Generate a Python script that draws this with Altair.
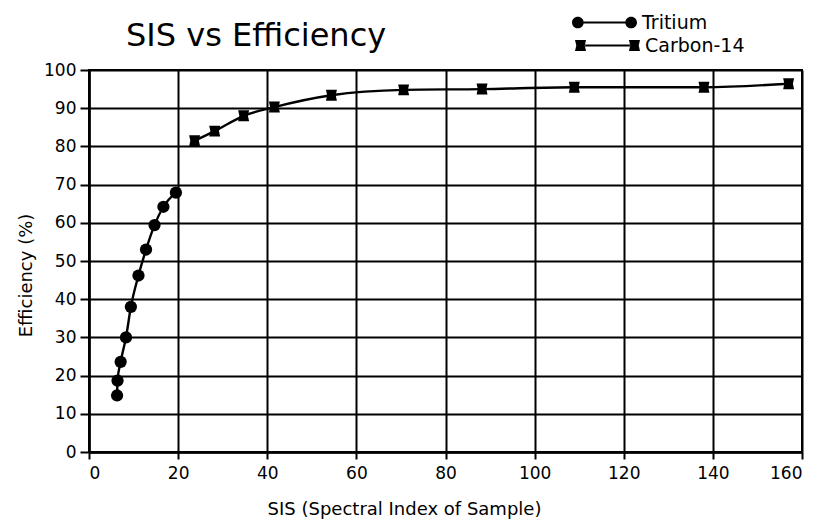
import altair as alt
import pandas as pd

# ---- data ----
tritium_sis = [6.3, 6.4, 7.1, 8.3, 9.4, 11.1, 12.8, 14.7, 16.7, 19.5]
tritium_eff = [14.8, 18.7, 23.6, 30.0, 38.0, 46.2, 53.0, 59.4, 64.2, 67.9]
carbon_sis = [23.7, 28.2, 34.7, 41.6, 54.4, 70.6, 88.2, 108.9, 138.0, 157.0]
carbon_eff = [81.5, 84.0, 88.0, 90.3, 93.4, 94.8, 95.0, 95.5, 95.5, 96.4]
x_ticks = [0, 20, 40, 60, 80, 100, 120, 140, 160]
y_ticks = [0, 10, 20, 30, 40, 50, 60, 70, 80, 90, 100]

tri = pd.DataFrame({"sis": tritium_sis, "eff": tritium_eff, "series": "Tritium"})
car = pd.DataFrame({"sis": carbon_sis, "eff": carbon_eff, "series": "Carbon-14"})

FONT = "DejaVu Sans"

# legend glyphs: marker - line - marker (all subpaths wound clockwise)
leg_tri = ("M-1,0 A0.18,0.18 0 1,1 -0.64,0 A0.18,0.18 0 1,1 -1,0 Z "
           "M0.64,0 A0.18,0.18 0 1,1 1,0 A0.18,0.18 0 1,1 0.64,0 Z "
           "M-0.66,-0.03 L0.66,-0.03 L0.66,0.03 L-0.66,0.03 Z")
leg_car = ("M-1,-0.17 L-0.66,-0.17 L-0.7,0 L-0.66,0.17 L-1,0.17 L-0.96,0 Z "
           "M0.66,-0.17 L1,-0.17 L0.96,0 L1,0.17 L0.66,0.17 L0.7,0 Z "
           "M-0.69,-0.03 L0.69,-0.03 L0.69,0.03 L-0.69,0.03 Z")
car_marker = "M-1,-1 L1,-1 L0.78,0 L1,1 L-1,1 L-0.78,0 Z"

x_enc = alt.X("sis:Q", scale=alt.Scale(domain=[0, 160], nice=False),
              axis=alt.Axis(values=x_ticks, title="SIS (Spectral Index of Sample)",
                            titleX=315, titleY=62, titleAlign="center",
                            titleBaseline="alphabetic"))
y_enc = alt.Y("eff:Q", scale=alt.Scale(domain=[0, 100], nice=False),
              axis=alt.Axis(values=y_ticks, title="Efficiency (%)",
                            titleX=-58, titleY=205, titleAlign="center",
                            titleBaseline="alphabetic", titleAngle=-90))

def legend(sym, lx, ly):
    return alt.Legend(title=None, orient="none", legendX=lx, legendY=ly,
                      symbolType=sym, symbolSize=4225, symbolStrokeWidth=0,
                      labelFont=FONT, labelFontSize=19, labelColor="black",
                      labelOffset=5, padding=0)

tri_line = alt.Chart(tri).mark_line(color="black", strokeWidth=2.4,
                                    interpolate="monotone").encode(x=x_enc, y=y_enc)
tri_pts = alt.Chart(tri).mark_point(shape="circle", filled=True, size=150,
                                    opacity=1).encode(
    x=x_enc, y=y_enc,
    color=alt.Color("series:N", scale=alt.Scale(domain=["Tritium"], range=["black"]),
                    legend=legend(leg_tri, 483, -80)))
car_line = alt.Chart(car).mark_line(color="black", strokeWidth=2.4,
                                    interpolate="monotone").encode(x=x_enc, y=y_enc)
car_pts = alt.Chart(car).mark_point(shape=car_marker, filled=True, size=120,
                                    opacity=1).encode(
    x=x_enc, y=y_enc,
    color=alt.Color("series:N", scale=alt.Scale(domain=["Carbon-14"], range=["black"]),
                    legend=legend(leg_car, 486, -57)))

chart = alt.layer(tri_line, car_line, tri_pts, car_pts).resolve_scale(
    color="independent").properties(
    width=713, height=382,
    autosize=alt.AutoSizeParams(type="none"),
    padding={"left": 81, "top": 62, "right": 5, "bottom": 68},
    background="white",
    title=alt.TitleParams("SIS vs Efficiency", anchor="start", dx=109, offset=-88,
                          font=FONT, fontSize=32, fontWeight="normal",
                          color="black", baseline="alphabetic"),
).configure_view(stroke="black", strokeWidth=2).configure_axis(
    grid=True, gridColor="black", gridWidth=2, gridOpacity=1,
    domainColor="black", domainWidth=2.5,
    tickColor="black", tickWidth=2,
    labelFont=FONT, labelFontSize=17, labelColor="black",
    titleFont=FONT, titleFontSize=18, titleFontWeight="normal", titleColor="black",
).configure_axisX(tickSize=7, labelPadding=6).configure_axisY(tickSize=9, labelPadding=4)

chart.save("out.html", embed_options={"renderer": "svg", "actions": False})
